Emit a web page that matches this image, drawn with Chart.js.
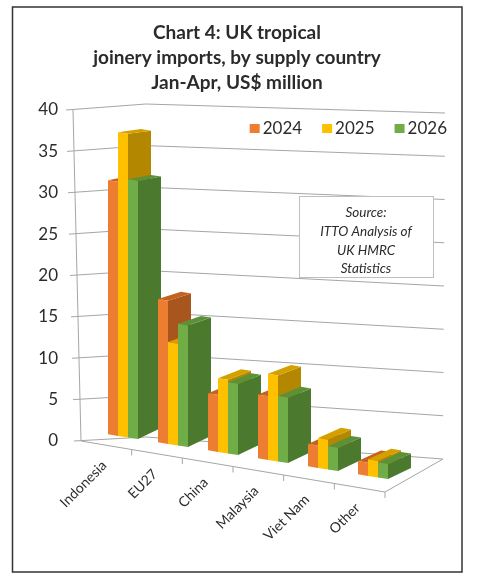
<!DOCTYPE html>
<html>
<head>
<meta charset="utf-8">
<script src="https://cdn.jsdelivr.net/npm/chart.js@4.4.1/dist/chart.umd.min.js"></script>
<style>
  html, body { margin: 0; padding: 0; background: #fff; }
  canvas { display: block; }
</style>
</head>
<body>
<canvas id="joineryChart" width="479" height="583"></canvas>
<script>
// Chart 4 values (US$ million, Jan-Apr)
const countries = ['Indonesia', 'EU27', 'China', 'Malaysia', 'Viet Nam', 'Other'];
const years = ['2024', '2025', '2026'];
const imports2024 = [30.7, 17.3, 6.9, 7.7, 2.7, 1.6];
const imports2025 = [36.7, 12.3, 8.9, 10.4, 3.6, 2.0];
const imports2026 = [31.2, 14.7, 8.6, 7.9, 2.8, 1.8];
const titleLines = ['Chart 4: UK tropical', 'joinery imports, by supply country', 'Jan-Apr, US$ million'];
const sourceLines = ['Source:', 'ITTO Analysis of', 'UK HMRC', 'Statistics'];

// colours: front, top and side faces of each series
const frontColors = ['#ED7D31', '#FFC000', '#70AD47'];
const topColors = ['#C4621F', '#D4A000', '#5C9138'];
const sideColors = ['#A9551E', '#B38700', '#4B7A2F'];

const FONT = 'Lato, "Open Sans", sans-serif';
const TEXT = '#2b2b2b';
const GRID = '#A6A6A6';

// fake perspective: bars are sheared down to the right and get a depth face
const SHEAR = 0.16, SHEAR_X = 150, DEPTH_X = 23;
function depthY(h) { return -11 + 0.026 * h - SHEAR * DEPTH_X; }

// wall / floor geometry (px)
const AXIS_X = 81, AXIS_LEAN = 8, CORNER_X = 146;
const BACK_Y0 = 437, BACK_H = 333, RIGHT_Y0 = 459, RIGHT_H = 346, RIGHT_X = 443;
const FRONT_R = 385, FRONT_RY = 492;

function poly(ctx, pts) {
    ctx.beginPath();
    ctx.moveTo(pts[0][0], pts[0][1]);
    for (let i = 1; i < pts.length; i++) ctx.lineTo(pts[i][0], pts[i][1]);
    ctx.closePath();
    ctx.fill();
}

function line(ctx, x1, y1, x2, y2) {
    ctx.beginPath();
    ctx.moveTo(x1, y1);
    ctx.lineTo(x2, y2);
    ctx.stroke();
}

const chart3d = {
    id: 'chart3d',
    beforeDraw(chart) {
        const ctx = chart.ctx;
        const y = chart.scales.y;
        const y0 = y.getPixelForValue(y.min);
        ctx.save();
        ctx.fillStyle = '#fff';
        ctx.fillRect(0, 0, chart.width, chart.height);
        // outer frame
        ctx.strokeStyle = '#333';
        ctx.lineWidth = 1.5;
        ctx.strokeRect(12.5, 7, 449.5, 565);

        ctx.strokeStyle = GRID;
        ctx.lineWidth = 1;
        // gridlines: left wall then back wall
        y.ticks.forEach(t => {
            const f = (t.value - y.min) / (y.max - y.min);
            const yf = y.getPixelForValue(t.value);
            const ax = AXIS_X - AXIS_LEAN * f;
            const yb = BACK_Y0 - BACK_H * f;
            const yr = RIGHT_Y0 - RIGHT_H * f;
            line(ctx, ax - 7, yf, CORNER_X, yb);
            line(ctx, CORNER_X, yb, RIGHT_X + 2 * f, yr);
        });
        // value axis
        line(ctx, AXIS_X, y0, AXIS_X - AXIS_LEAN, y.getPixelForValue(y.max));
        // floor
        line(ctx, AXIS_X, y0, FRONT_R, FRONT_RY);
        line(ctx, FRONT_R, FRONT_RY, RIGHT_X, RIGHT_Y0);
        const n = countries.length;
        for (let i = 1; i <= n; i++) {
            const tx = AXIS_X + i * (FRONT_R - AXIS_X) / n;
            const ty = y0 + (FRONT_RY - y0) * (tx - AXIS_X) / (FRONT_R - AXIS_X);
            line(ctx, tx, ty, tx, ty + 6);
        }
        ctx.restore();
    },
    beforeDatasetsDraw(chart) {
        const ctx = chart.ctx;
        ctx.save();
        ctx.transform(1, SHEAR, 0, 1, 0, -SHEAR * SHEAR_X);
        const metas = chart.data.datasets.map((d, i) => chart.getDatasetMeta(i));
        for (let j = 0; j < countries.length; j++) {
            metas.forEach((meta, i) => {
                const { x, y, base, width } = meta.data[j].getProps(['x', 'y', 'base', 'width'], true);
                const xl = x - width / 2, xr = x + width / 2;
                const dyTop = depthY(base - y), dyBase = depthY(0);
                ctx.fillStyle = sideColors[i];
                poly(ctx, [[xr, y], [xr + DEPTH_X, y + dyTop], [xr + DEPTH_X, base + dyBase], [xr, base]]);
                ctx.fillStyle = topColors[i];
                poly(ctx, [[xl, y], [xl + DEPTH_X, y + dyTop], [xr + DEPTH_X, y + dyTop], [xr, y]]);
            });
        }
        // transform stays on while Chart.js paints the front faces
    },
    afterDatasetsDraw(chart) {
        const ctx = chart.ctx;
        ctx.restore();
        ctx.save();

        // category labels along the front edge of the floor
        const y = chart.scales.y;
        const y0 = y.getPixelForValue(y.min);
        const n = countries.length;
        ctx.font = '14px ' + FONT;
        ctx.fillStyle = TEXT;
        ctx.textAlign = 'right';
        ctx.textBaseline = 'middle';
        countries.forEach((c, i) => {
            const cx = AXIS_X + (i + 0.5) * (FRONT_R - AXIS_X) / n;
            const cy = y0 + (FRONT_RY - y0) * (cx - AXIS_X) / (FRONT_R - AXIS_X);
            ctx.save();
            ctx.translate(cx - 2, cy + 18);
            ctx.rotate(-Math.PI / 4);
            ctx.fillText(c, 0, 0);
            ctx.restore();
        });

        // legend
        ctx.font = '17px ' + FONT;
        ctx.textAlign = 'left';
        const widths = years.map(t => ctx.measureText(t).width);
        const total = widths.reduce((a, w) => a + 10 + 3 + w, 0) + 20 * (years.length - 1);
        let lx = 447 - total;
        years.forEach((t, i) => {
            ctx.fillStyle = frontColors[i];
            ctx.fillRect(lx, 124, 10, 9);
            ctx.fillStyle = TEXT;
            ctx.fillText(t, lx + 13, 129);
            lx += 13 + widths[i] + 20;
        });

        // source box
        ctx.fillStyle = '#fff';
        ctx.fillRect(299.5, 196.5, 134, 81);
        ctx.strokeStyle = '#BFBFBF';
        ctx.lineWidth = 1;
        ctx.strokeRect(299.5, 196.5, 134, 81);
        ctx.fillStyle = TEXT;
        ctx.font = 'italic 13.5px ' + FONT;
        ctx.textAlign = 'center';
        sourceLines.forEach((s, i) => ctx.fillText(s, 366, 213 + i * 18.7));
        ctx.restore();
    }
};

const ctx = document.getElementById('joineryChart').getContext('2d');
const joineryChart = new Chart(ctx, {
    type: 'bar',
    data: {
        labels: countries,
        datasets: [
            { label: years[0], data: imports2024, backgroundColor: frontColors[0], yAxisID: 'y' },
            { label: years[1], data: imports2025, backgroundColor: frontColors[1], yAxisID: 'y' },
            { label: years[2], data: imports2026, backgroundColor: frontColors[2], yAxisID: 'y' }
        ]
    },
    options: {
        responsive: false,
        animation: false,
        events: [],
        layout: { padding: { top: 0, left: 25, right: 30, bottom: 142 } },
        datasets: {
            bar: { categoryPercentage: 0.6, barPercentage: 1.0, borderWidth: 0, clip: false }
        },
        scales: {
            x: { display: false },
            y: {
                position: 'left',
                min: 0,
                max: 40,
                afterFit(scale) { scale.width = 73; },
                grid: { display: false, drawTicks: false },
                border: { display: false },
                ticks: {
                    stepSize: 5,
                    padding: 40,
                    color: TEXT,
                    font: { family: FONT, size: 17 }
                }
            },
            // empty right axis only reserves the space right of the floor
            yRight: {
                position: 'right',
                afterFit(scale) { scale.width = 51; },
                grid: { display: false },
                border: { display: false },
                ticks: { display: false }
            }
        },
        plugins: {
            legend: { display: false },
            tooltip: { enabled: false },
            title: {
                display: true,
                text: titleLines,
                color: TEXT,
                font: { family: FONT, size: 19, weight: 'bold', lineHeight: '25px' },
                padding: { top: 20, bottom: 15 }
            }
        }
    },
    plugins: [chart3d]
});
</script>
</body>
</html>
